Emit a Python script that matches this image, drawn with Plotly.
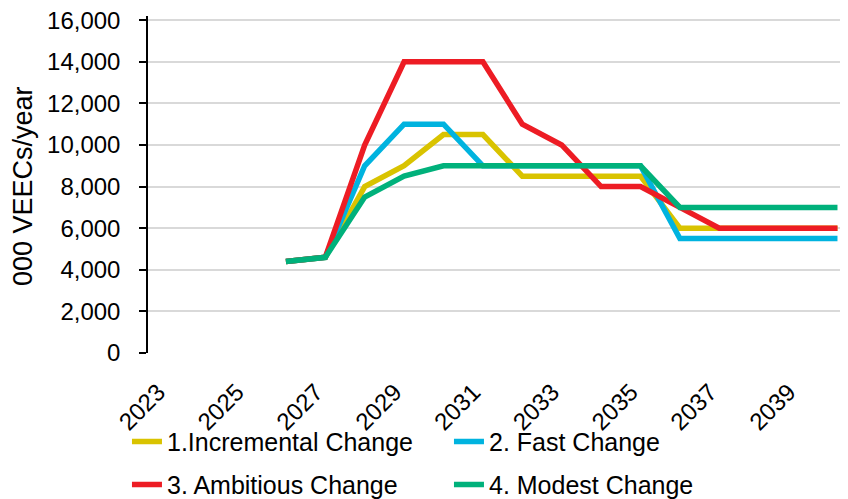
import plotly.graph_objects as go

years = [str(y) for y in range(2023, 2041)]
incremental = [None, None, None, 4400, 4600, 8000, 9000, 10500, 10500, 8500, 8500, 8500, 8500, 6000, 6000, 6000, 6000, 6000]
fast = [None, None, None, 4400, 4600, 9000, 11000, 11000, 9000, 9000, 9000, 9000, 9000, 5500, 5500, 5500, 5500, 5500]
ambitious = [None, None, None, 4400, 4600, 10000, 14000, 14000, 14000, 11000, 10000, 8000, 8000, 7000, 6000, 6000, 6000, 6000]
modest = [None, None, None, 4400, 4600, 7500, 8500, 9000, 9000, 9000, 9000, 9000, 9000, 7000, 7000, 7000, 7000, 7000]
series_names = ["1.Incremental Change", "2. Fast Change", "3. Ambitious Change", "4. Modest Change"]
tick_years = years[::2]
y_ticks = list(range(0, 16001, 2000))
y_title = "000 VEECs/year"

colors = ["#D9C300", "#00B3DF", "#ED1C24", "#00B17B"]
legends = ["legend", "legend", "legend2", "legend2"]
FONT = "Liberation Sans, Arial, sans-serif"

fig = go.Figure()
for name, vals, col, lg in zip(series_names, [incremental, fast, ambitious, modest], colors, legends):
    fig.add_trace(go.Scatter(x=years, y=vals, name=name, mode="lines",
                             line=dict(color=col, width=5.5),
                             legend=lg))

common_legend = dict(orientation="h", xanchor="left", yanchor="middle",
                     font=dict(family=FONT, size=25, color="#000000"),
                     bgcolor="rgba(0,0,0,0)", entrywidth=277, itemwidth=30,
                     itemclick=False)

fig.update_layout(
    width=848, height=499,
    margin=dict(l=140, r=0, t=8, b=154, autoexpand=False),
    paper_bgcolor="white", plot_bgcolor="white",
    font=dict(family=FONT, size=24, color="#000000"),
    showlegend=True,
    legend=dict(x=-0.0297, y=-0.2635, **common_legend),
    legend2=dict(x=-0.0297, y=-0.391, **common_legend),
    xaxis=dict(type="category", range=[-0.5, 17.47], tickmode="array",
               tickvals=tick_years, ticktext=[t + "\u00a0\u00a0" for t in tick_years],
               tickangle=-45,
               showgrid=False, showline=False, ticks="", zeroline=False,
               tickfont=dict(family=FONT, size=24, color="#000000"),
               ticklabelstandoff=10, ticklabeloverflow="allow"),
    yaxis=dict(range=[0, 16200], tickmode="array", tickvals=y_ticks,
               tickformat=",d", showgrid=True, gridcolor="#D9D9D9", gridwidth=1.5,
               showline=True, linecolor="#000000", linewidth=1.5,
               ticks="outside", ticklen=7, tickcolor="#000000", tickwidth=1.5,
               zeroline=False, ticklabelstandoff=14, ticklabeloverflow="allow",
               tickfont=dict(family=FONT, size=24, color="#000000")),
    annotations=[dict(text=y_title, xref="paper", yref="paper",
                      x=-0.1755, y=0.4945, xanchor="center", yanchor="middle",
                      textangle=-90, showarrow=False,
                      font=dict(family=FONT, size=27, color="#000000"))],
)

fig.write_html("out.html")
